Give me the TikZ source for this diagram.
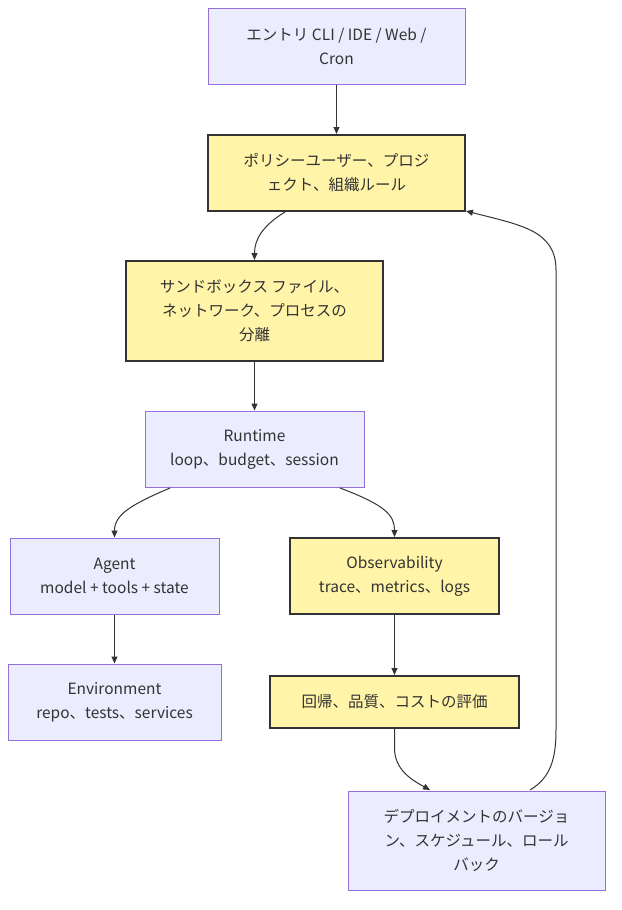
\documentclass[tikz,border=0pt]{standalone}
\usepackage{fontspec}
\setmainfont{Noto Sans CJK JP}
\usetikzlibrary{arrows.meta}
\definecolor{lavfill}{HTML}{ECECFF}
\definecolor{lavline}{HTML}{9370DB}
\definecolor{yelfill}{HTML}{FFF4A8}
\definecolor{darkline}{HTML}{333333}
\begin{document}
\begin{tikzpicture}[x=1pt,y=-1pt,
  every node/.style={font=\fontsize{15.5}{24}\selectfont, align=center, inner sep=0pt, text=darkline},
  lav/.style={draw=lavline, fill=lavfill, line width=1pt, rectangle},
  yel/.style={draw=darkline, fill=yelfill, line width=2pt, rectangle},
  conn/.style={draw=darkline, line width=1pt, -{Triangle[length=7pt,width=6pt]}}]
\useasboundingbox (0,0) rectangle (621,910);
\node[lav, minimum width=257pt, minimum height=76pt] (entry) at (336.5,46) {エントリ CLI / IDE / Web /\\Cron};
\node[yel, minimum width=257pt, minimum height=76pt] (policy) at (336.5,173) {ポリシーユーザー、プロジ\\ェクト、組織ルール};
\node[yel, minimum width=257pt, minimum height=100pt] (sandbox) at (254.5,311) {サンドボックス ファイル、\\ネットワーク、プロセスの\\分離};
\node[lav, minimum width=219pt, minimum height=76pt] (runtime) at (254.5,449) {Runtime\\loop、budget、session};
\node[lav, minimum width=209pt, minimum height=76pt] (agent) at (114.5,576) {Agent\\model + tools + state};
\node[yel, minimum width=209pt, minimum height=76pt] (obs) at (394.5,576) {Observability\\trace、metrics、logs};
\node[lav, minimum width=213pt, minimum height=76pt] (env) at (114.5,702) {Environment\\repo、tests、services};
\node[yel, minimum width=249pt, minimum height=52pt] (eval) at (394.5,702) {回帰、品質、コストの評価};
\node[lav, minimum width=257pt, minimum height=99pt] (deploy) at (476.5,840.5) {デプロイメントのバージョ\\ン、スケジュール、ロール\\バック};

\coordinate (pr) at (285,212);
\coordinate (rl) at (170,488);
\coordinate (rr) at (340,488);
\coordinate (dl) at (430,790);
\coordinate (du) at (530,790);
\coordinate (pc) at (466,211);

\draw[conn] (entry.south) -- (policy.north);
\draw[conn] (pr) .. controls (262,226) and (254.5,240) .. (sandbox.north);
\draw[conn] (sandbox.south) -- (runtime.north);
\draw[conn] (rl) .. controls (130,505) and (114.5,515) .. (agent.north);
\draw[conn] (rr) .. controls (385,505) and (394.5,515) .. (obs.north);
\draw[conn] (agent.south) -- (env.north);
\draw[conn] (obs.south) -- (eval.north);
\draw[conn] (eval.south) -- (394.5,748) .. controls (394.5,770) and (412,780) .. (dl);
\draw[conn] (du) .. controls (550,778) and (556,760) .. (556,730) -- (556,270) .. controls (556,230) and (520,225) .. (pc);
\end{tikzpicture}
\end{document}
